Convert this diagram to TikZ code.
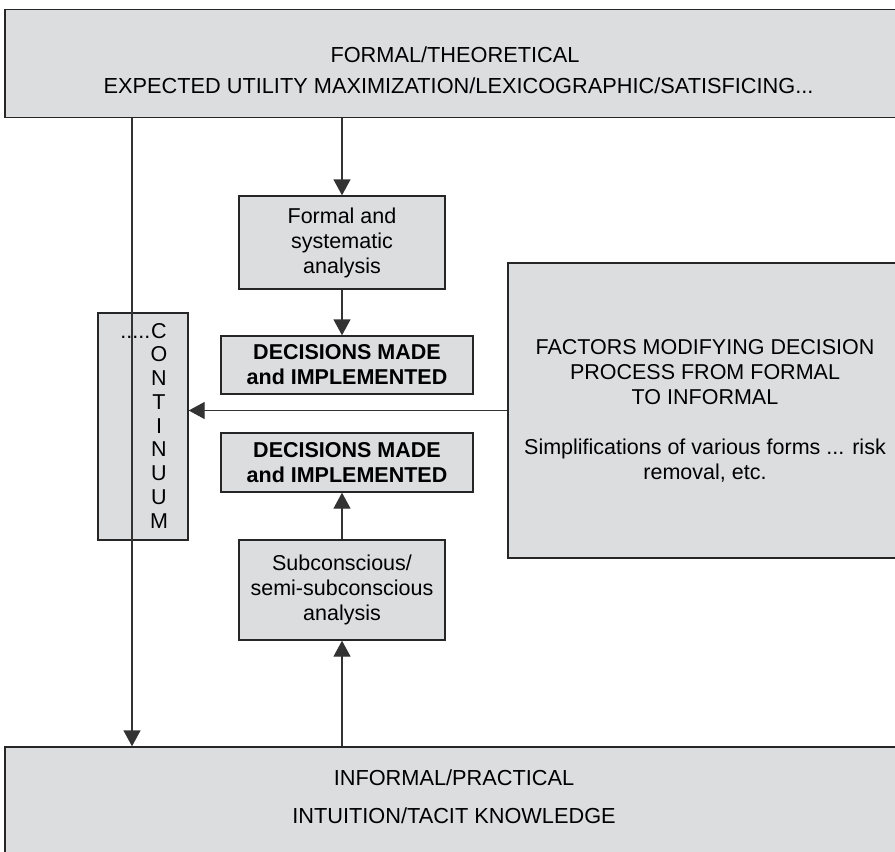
\documentclass[tikz,border=0pt]{standalone}
\usepackage{fontspec}
\setmainfont{Liberation Sans}
\usepackage{xcolor}
\usepackage{tikz}
\usetikzlibrary{arrows.meta,positioning}

\definecolor{boxgray}{RGB}{220,221,223}

\begin{document}
\begin{tikzpicture}[
  x=1pt, y=-1pt,
  font=\fontsize{21.5}{25}\selectfont,
  band/.style={rectangle, draw=black!85, line width=1.4pt, fill=boxgray, minimum width=900pt, minimum height=108pt},
  stepbox/.style={rectangle, draw=black!85, line width=1.4pt, fill=boxgray, align=center, inner sep=0pt},
  decision/.style={stepbox, minimum width=252pt, minimum height=58pt, font=\fontsize{21.5}{25}\selectfont\bfseries},
  arrow/.style={-{Triangle[length=16pt,width=17pt]}, line width=1.4pt, draw=black!80},
  bandtext/.style={anchor=base, font=\fontsize{21.75}{25}\selectfont}
]
\clip (0,0) rectangle (895,852);
\fill[white] (0,0) rectangle (895,852);

% formal end of the scale
\node[band] (formaltop) at (455,63.5) {};
\node[bandtext] (formalhead) at (455,62) {FORMAL/THEORETICAL};
\node[bandtext] (formalsub) at (458.5,93.5) {EXPECTED UTILITY MAXIMIZATION/LEXICOGRAPHIC/SATISFICING...};

% informal end of the scale
\node[band, minimum height=110pt] (informalbot) at (455,802) {};
\node[bandtext] (informalhead) at (454,785.5) {INFORMAL/PRACTICAL};
\node[bandtext] (informalsub) at (454,823.5) {INTUITION/TACIT KNOWLEDGE};

% middle column
\node[stepbox, minimum width=206pt, minimum height=93pt] (formal) at (342,242.5) {Formal and\\systematic\\analysis};
\node[decision] (dec1) at (347,365) {DECISIONS MADE\\and IMPLEMENTED};
\node[decision, minimum height=59pt] (dec2) at (347,462.5) {DECISIONS MADE\\and IMPLEMENTED};
\node[stepbox, minimum width=206pt, minimum height=100pt] (subcon) at (342,590) {Subconscious/\\semi-subconscious\\analysis};

% continuum and factors
\node[stepbox, minimum width=90pt, minimum height=227pt] (contbox) at (143,426.5) {};
\node[anchor=base, align=center, font=\fontsize{21.5}{23.75}\selectfont] (contletters) at (159,528) {\llap{.....\kern1pt}C\\O\\N\\T\\I\\N\\U\\U\\M};
\node[stepbox, minimum width=394pt, minimum height=295pt] (factors) at (705,410.5) {FACTORS MODIFYING DECISION\\PROCESS FROM FORMAL\\TO INFORMAL\\[25pt]Simplifications of various forms ... risk\\removal, etc.};

\coordinate (contline) at (132,400);

\draw[arrow] (formal.north |- formaltop.south) -- (formal.north);
\draw[arrow] (formal.south) -- (formal.south |- dec1.north);
\draw[arrow] (subcon.north) -- (subcon.north |- dec2.south);
\draw[arrow] (subcon.south |- informalbot.north) -- (subcon.south);
\draw[arrow] (factors.west) -- (contbox.east |- factors.west);
\draw[arrow] (formaltop.south -| contline) -- (informalbot.north -| contline);
\end{tikzpicture}
\end{document}
